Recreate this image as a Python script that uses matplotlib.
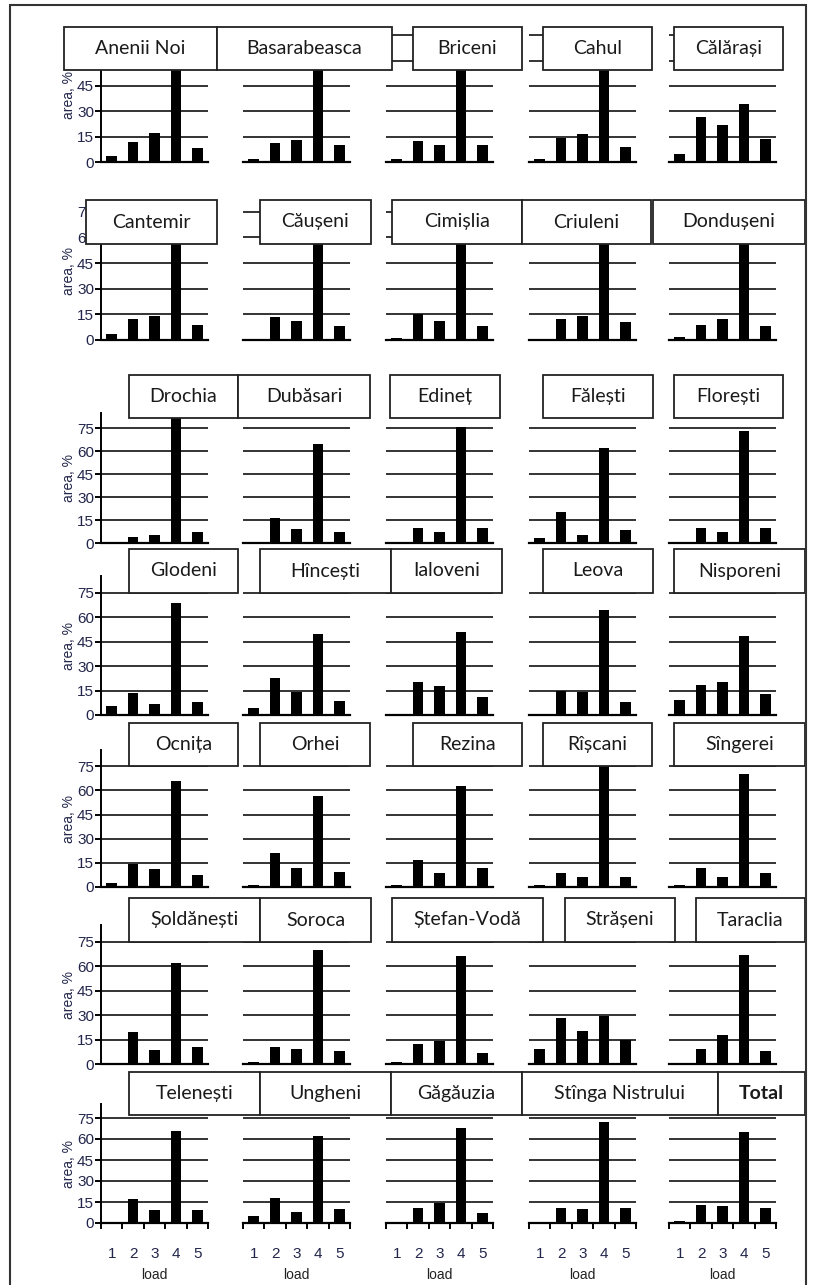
import matplotlib.pyplot as plt
from matplotlib.patches import Rectangle

# data: share of area (%) by load class 1..5, per district
loads = [1, 2, 3, 4, 5]
names = [
    "Anenii Noi", "Basarabeasca", "Briceni", "Cahul", "Călărași",
    "Cantemir", "Căușeni", "Cimișlia", "Criuleni", "Dondușeni",
    "Drochia", "Dubăsari", "Edineț", "Fălești", "Florești",
    "Glodeni", "Hîncești", "Ialoveni", "Leova", "Nisporeni",
    "Ocnița", "Orhei", "Rezina", "Rîșcani", "Sîngerei",
    "Șoldănești", "Soroca", "Ștefan-Vodă", "Strășeni", "Taraclia",
    "Telenești", "Ungheni", "Găgăuzia", "Stînga Nistrului", "Total",
]
values = [
    [3.5, 12, 17, 62, 8.5], [2, 11, 13, 62, 10], [1.5, 12.5, 10, 62, 10], [2, 14, 16.5, 62, 9], [5, 26.5, 22, 34.5, 13.5],
    [3.5, 12.5, 14, 62, 9], [0, 13.5, 11, 62, 8], [1, 15, 11, 62, 8], [0, 12, 14, 62, 10.5], [2, 9, 12, 62, 8],
    [0, 4, 5, 88, 7.5], [0, 16.5, 9, 64.5, 7.5], [0, 9.5, 7.5, 76, 10], [3.5, 20, 5.5, 62, 8.5], [0, 9.5, 7.5, 73, 10],
    [5.5, 13.5, 6.7, 69, 8], [4.5, 23, 14, 50, 8.5], [0, 20.5, 17.5, 51, 11], [0, 14.5, 14, 64.5, 8], [9, 18.5, 20, 48.5, 13],
    [2.5, 14.5, 11, 66, 7.5], [1.5, 21, 12, 56.5, 9.5], [1, 16.5, 9, 63, 12], [1, 9, 6.5, 80, 6.5], [1, 12, 6.5, 70, 8.5],
    [0, 19.5, 8.5, 62, 10.5], [1, 10.5, 9.5, 70, 8], [1, 12.5, 14, 66, 6.7], [9.5, 28, 20, 29.5, 15], [0, 9.5, 17.5, 67, 8],
    [0, 17, 9, 66, 9], [5, 18, 8, 62, 10], [0, 11, 14, 68, 7], [0, 11, 10, 72.5, 11], [1.5, 13, 12, 65, 10.5],
]
yticks = [0, 15, 30, 45, 60, 75]

W, H = 816, 1285
fig = plt.figure(figsize=(W / 100, H / 100), dpi=100)

# layout in pixels
col_left = [101, 243, 386, 529, 669]
col_w = 107
row_base = [162, 340, 543, 715, 887, 1064, 1223]
row_ppu = [1.69, 1.71, 1.53, 1.63, 1.61, 1.63, 1.40]
row_top = [79, 81, 85, 85, 85, 85, 85]
box_y = [(27, 70), (200, 244), (375, 418), (549, 593), (723, 766), (898, 942), (1072, 1115)]
box_x = [
    [(64, 217), (217, 392), (413, 522), (543, 652), (674, 783)],
    [(86, 217), (260, 371), (392, 522), (522, 651), (653, 805)],
    [(129, 238), (238, 370), (390, 500), (543, 653), (674, 783)],
    [(129, 238), (260, 391), (391, 502), (543, 653), (674, 805)],
    [(129, 238), (260, 370), (413, 522), (543, 652), (674, 805)],
    [(129, 260), (260, 371), (392, 543), (565, 675), (696, 805)],
    [(129, 260), (260, 391), (391, 522), (522, 718), (718, 805)],
]

tick_font = {"family": ["Liberation Sans", "DejaVu Sans"], "size": 11}
lab_font = {"family": ["Liberation Sans", "DejaVu Sans"], "size": 10}
lab_col = "#22264a"

for i, name in enumerate(names):
    r, c = divmod(i, 5)
    top = row_top[r]
    h = top * row_ppu[r]
    ax = fig.add_axes([col_left[c] / W, 1 - row_base[r] / H, col_w / W, h / H])
    ax.bar(loads, values[i], width=0.5, color="black", zorder=3)
    ax.set_xlim(0.5, 5.5)
    ax.set_ylim(0, top)
    for t in yticks[1:]:
        ax.axhline(t, color="#333333", lw=1.4, zorder=1)
    for s in ["top", "right"]:
        ax.spines[s].set_visible(False)
    ax.spines["bottom"].set_linewidth(1.6)
    ax.spines["left"].set_linewidth(1.4)
    ax.patch.set_alpha(0)

    if c == 0:
        ax.set_yticks(yticks)
        ax.set_yticklabels([str(t) for t in yticks], fontdict=tick_font, color=lab_col)
        ax.tick_params(axis="y", length=4, width=1.4, pad=1)
        ax.set_ylabel("area, %", fontdict=lab_font, color=lab_col, labelpad=1)
    else:
        ax.spines["left"].set_visible(False)
        ax.set_yticks([])

    if r == 6:
        ax.set_xticks([0.5, 1.5, 2.5, 3.5, 4.5, 5.5])
        ax.set_xticklabels([])
        ax.set_xticks(loads, minor=True)
        ax.set_xticklabels([str(x) for x in loads], minor=True, fontdict=tick_font, color=lab_col)
        ax.tick_params(axis="x", which="major", length=4, width=1.4)
        ax.tick_params(axis="x", which="minor", length=0, pad=17)
        ax.set_xlabel("load", fontdict=lab_font, color="#222222", labelpad=5)
    else:
        ax.set_xticks([])

    # title box on top of the small chart
    x0, x1 = box_x[r][c]
    y0, y1 = box_y[r]
    fig.add_artist(Rectangle((x0 / W, 1 - y1 / H), (x1 - x0) / W, (y1 - y0) / H,
                             transform=fig.transFigure, facecolor="white",
                             edgecolor="#222222", lw=1.3, zorder=5))
    fig.text((x0 + x1) / 2 / W, 1 - (y0 + y1) / 2 / H, name,
             ha="center", va="center", fontsize=14, family=["Lato", "DejaVu Sans"],
             color="#1a1a1a", weight="bold" if name == "Total" else "normal", zorder=6)

# outer frame
fig.add_artist(Rectangle((10 / W, -0.01), 796 / W, 1.01 - 5 / H, transform=fig.transFigure,
                         fill=False, edgecolor="#333333", lw=1.5, zorder=7))

fig.savefig("out.png", dpi=100)
